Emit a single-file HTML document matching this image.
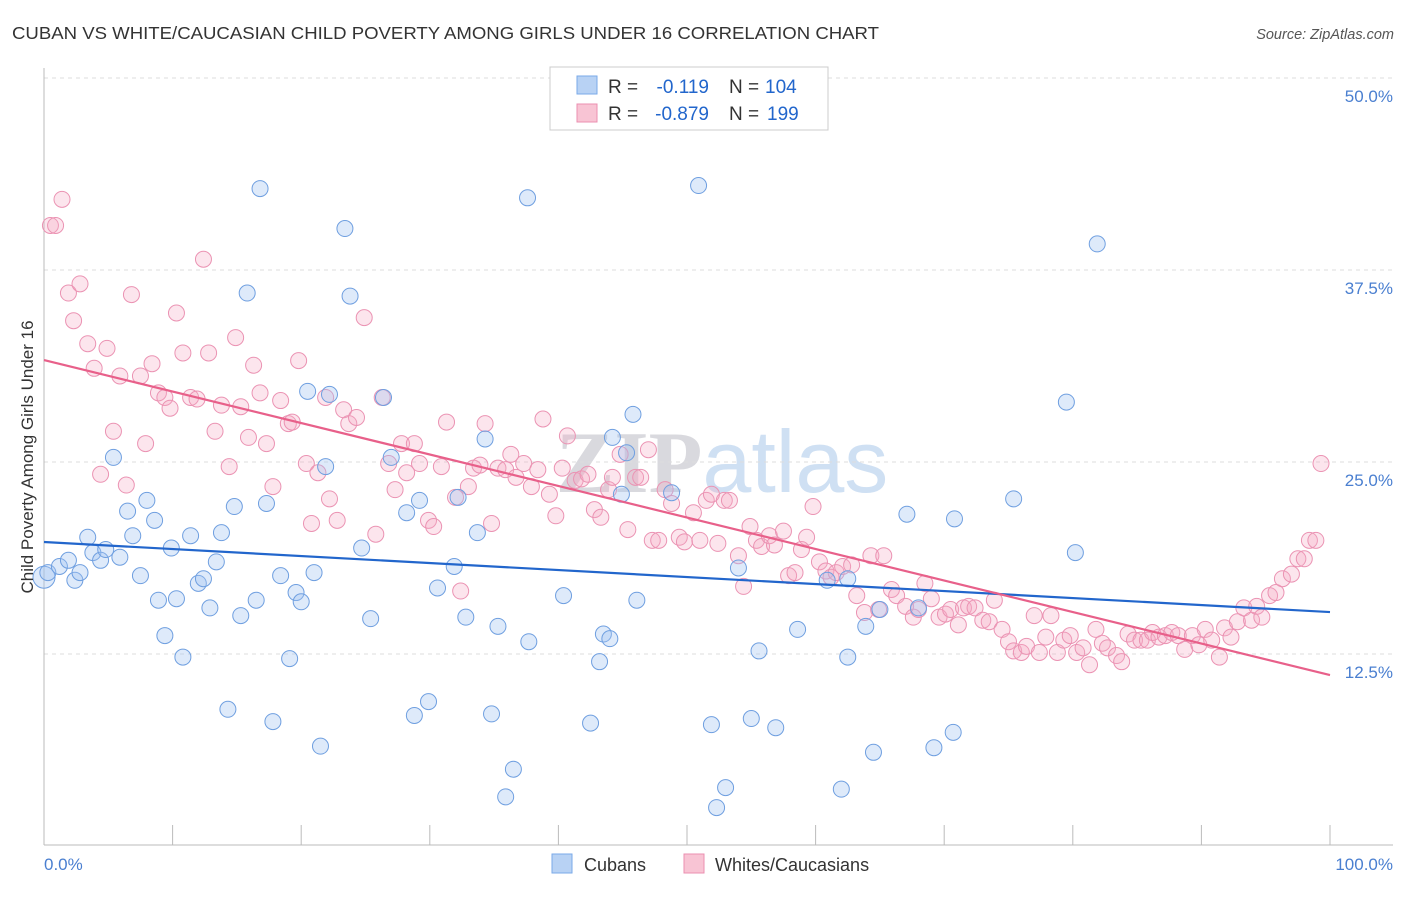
<!DOCTYPE html>
<html><head><meta charset="utf-8"><style>
body{margin:0;background:#fff;font-family:"Liberation Sans",sans-serif}
svg text{font-family:"Liberation Sans",sans-serif}
</style></head><body>
<svg id="chart" width="1406" height="892" viewBox="0 0 1406 892" xmlns="http://www.w3.org/2000/svg">
<text x="12" y="39" font-size="17.5" fill="#333" textLength="867" lengthAdjust="spacingAndGlyphs">CUBAN VS WHITE/CAUCASIAN CHILD POVERTY AMONG GIRLS UNDER 16 CORRELATION CHART</text>
<text x="1394" y="39" font-size="14.5" fill="#555" text-anchor="end" font-style="italic">Source: ZipAtlas.com</text>
<text x="722" y="492" font-size="88" fill="#e6e6ea" text-anchor="middle"><tspan font-family="Liberation Serif" font-weight="bold" fill="#d9d9de">ZIP</tspan><tspan fill="#cfe0f3">atlas</tspan></text>
<g id="grid"></g>
<g id="axes"></g>
<g id="points"></g>
<g id="lines"></g>
<text transform="translate(33,457) rotate(-90)" font-size="17" fill="#333" text-anchor="middle">Child Poverty Among Girls Under 16</text>
<text x="44" y="870" font-size="17" fill="#4a7fd0">0.0%</text>
<text x="1393" y="870" font-size="17" fill="#4a7fd0" text-anchor="end">100.0%</text>
<g>
<rect x="550" y="67" width="278" height="63" fill="#fff" stroke="#ccc"/>
<rect x="577" y="76" width="20" height="18" fill="#b8d2f4" stroke="#7aaae8"/>
<rect x="577" y="104" width="20" height="18" fill="#f8c4d4" stroke="#eb8fb0"/>
<text x="608" y="93" font-size="19" fill="#333">R =</text>
<text x="709" y="93" font-size="19" fill="#2266cc" text-anchor="end">-0.119</text>
<text x="729" y="93" font-size="19" fill="#333">N =</text>
<text x="765" y="93" font-size="19" fill="#2266cc">104</text>
<text x="608" y="120" font-size="19" fill="#333">R =</text>
<text x="709" y="120" font-size="19" fill="#2266cc" text-anchor="end">-0.879</text>
<text x="729" y="120" font-size="19" fill="#333">N =</text>
<text x="767" y="120" font-size="19" fill="#2266cc">199</text>
</g>
<g>
<rect x="552" y="854" width="20" height="19" fill="#b8d2f4" stroke="#7aaae8"/>
<text x="584" y="871" font-size="18" fill="#333">Cubans</text>
<rect x="684" y="854" width="20" height="19" fill="#f8c4d4" stroke="#eb8fb0"/>
<text x="715" y="871" font-size="18" fill="#333">Whites/Caucasians</text>
</g>
</svg>
<script>
const yTicks=[12.5,25,37.5,50];
const yTickLabels=["12.5%","25.0%","37.5%","50.0%"];
const xTicks=[0,10,20,30,40,50,60,70,80,90,100];
const cubanX=[0,0.3,1.2,1.9,2.4,2.8,3.4,3.8,4.4,4.8,5.4,5.9,6.5,6.9,7.5,8.0,8.6,8.9,9.4,9.9,10.3,10.8,11.4,12.0,12.4,12.9,13.4,13.8,14.3,14.8,15.3,15.8,16.5,16.8,17.3,17.8,18.4,19.1,19.6,20.0,20.5,21.0,21.5,21.9,22.2,23.4,23.8,24.7,25.4,26.4,27.0,28.2,28.8,29.2,29.9,30.6,31.9,32.2,32.8,33.7,34.3,34.8,35.3,35.9,36.5,37.6,37.7,40.4,42.5,43.2,43.5,44.0,44.2,44.9,45.3,45.8,46.1,48.8,50.9,51.9,52.3,53.0,54.0,55.0,55.6,56.9,58.6,60.9,62.0,62.5,62.5,63.9,64.5,65.0,67.1,68.0,69.2,70.7,70.8,75.4,79.5,80.2,81.9];
const cubanY=[17.5,17.8,18.2,18.6,17.3,17.8,20.1,19.1,18.6,19.3,25.3,18.8,21.8,20.2,17.6,22.5,21.2,16.0,13.7,19.4,16.1,12.3,20.2,17.1,17.4,15.5,18.5,20.4,8.9,22.1,15.0,36.0,16.0,42.8,22.3,8.1,17.6,12.2,16.5,15.9,29.6,17.8,6.5,24.7,29.4,40.2,35.8,19.4,14.8,29.2,25.3,21.7,8.5,22.5,9.4,16.8,18.2,22.7,14.9,20.4,26.5,8.6,14.3,3.2,5.0,42.2,13.3,16.3,8.0,12.0,13.8,13.5,26.6,22.9,25.6,28.1,16.0,23.0,43.0,7.9,2.5,3.8,18.1,8.3,12.7,7.7,14.1,17.3,3.7,17.4,12.3,14.3,6.1,15.4,21.6,15.5,6.4,7.4,21.3,22.6,28.9,19.1,39.2];
const whiteX=[0.5,0.9,1.4,1.9,2.3,2.8,3.4,3.9,4.4,4.9,5.4,5.9,6.4,6.8,7.5,7.9,8.4,8.9,9.4,9.8,10.3,10.8,11.4,11.9,12.4,12.8,13.3,13.8,14.4,14.9,15.3,15.9,16.3,16.8,17.3,17.8,18.4,19.0,19.3,19.8,20.4,20.8,21.3,21.9,22.2,22.8,23.3,23.7,24.3,24.9,25.8,26.3,26.8,27.3,27.8,28.2,28.8,29.2,29.9,30.3,30.9,31.3,32.0,32.4,33.0,33.4,33.9,34.3,34.8,35.3,35.9,36.3,36.7,37.3,37.9,38.4,38.8,39.3,39.8,40.3,40.7,41.3,41.8,42.3,42.8,43.3,43.9,44.2,44.8,45.4,46.0,46.4,47.0,47.3,47.8,48.3,48.8,49.4,49.8,50.5,51.0,51.5,51.9,52.4,52.9,53.3,54.0,54.4,54.9,55.4,55.8,56.4,56.8,57.5,57.9,58.4,58.9,59.3,59.8,60.3,60.8,61.2,61.6,62.1,62.8,63.2,63.8,64.3,64.9,65.3,65.9,66.3,67.0,67.6,68.0,68.5,69.0,69.6,70.1,70.5,71.1,71.5,71.9,72.4,73.0,73.5,73.9,74.5,75.0,75.4,76.0,76.4,77.0,77.4,77.9,78.3,78.8,79.3,79.8,80.3,80.8,81.3,81.8,82.3,82.7,83.4,83.8,84.3,84.8,85.3,85.8,86.2,86.7,87.2,87.7,88.2,88.7,89.3,89.8,90.3,90.8,91.4,91.8,92.3,92.8,93.3,93.9,94.3,94.7,95.3,95.8,96.3,97.0,97.5,98.0,98.4,98.9,99.3];
const whiteY=[40.4,40.4,42.1,36.0,34.2,36.6,32.7,31.1,24.2,32.4,27.0,30.6,23.5,35.9,30.6,26.2,31.4,29.5,29.2,28.5,34.7,32.1,29.2,29.1,38.2,32.1,27.0,28.7,24.7,33.1,28.6,26.6,31.3,29.5,26.2,23.4,29.0,27.5,27.6,31.6,24.9,21.0,24.3,29.2,22.6,21.2,28.4,27.5,27.9,34.4,20.3,29.2,24.9,23.2,26.2,24.3,26.2,24.9,21.2,20.8,24.7,27.6,22.7,16.6,23.4,24.6,24.8,27.5,21.0,24.6,24.5,25.5,24.0,24.9,23.4,24.5,27.8,22.9,21.5,24.6,26.7,23.8,23.9,24.2,21.9,21.4,23.2,24.0,25.5,20.6,24.0,24.0,25.8,19.9,19.9,23.2,22.3,20.1,19.8,21.7,19.9,22.5,22.9,19.7,22.5,22.5,18.9,16.9,20.8,19.9,19.5,20.2,19.6,20.5,17.6,17.8,19.3,20.1,22.1,18.5,17.9,17.5,17.8,18.2,18.3,16.3,15.2,18.9,15.4,18.9,16.7,16.3,15.6,14.9,15.4,17.1,16.1,14.9,15.1,15.4,14.4,15.5,15.6,15.5,14.7,14.6,16.0,14.1,13.3,12.7,12.6,13.0,15.0,12.6,13.6,15.0,12.6,13.4,13.7,12.6,12.9,11.8,14.1,13.2,12.9,12.4,12.0,13.8,13.4,13.4,13.4,13.9,13.6,13.7,13.9,13.7,12.8,13.7,13.1,14.1,13.4,12.3,14.2,13.6,14.6,15.5,14.7,15.6,14.9,16.3,16.5,17.4,17.7,18.7,18.7,19.9,19.9,24.9];
const cubanTrend=[19.79,15.23];
const whiteTrend=[31.64,11.13];

const NS="http://www.w3.org/2000/svg";
const X0=44,X1=1330,YB=846,PXY=15.36;
function sx(v){return X0+(X1-X0)*v/100;}
function sy(v){return YB-v*PXY;}
function mk(tag,attrs,parent){const e=document.createElementNS(NS,tag);for(const k in attrs)e.setAttribute(k,attrs[k]);parent.appendChild(e);return e;}
const grid=document.getElementById('grid'),axes=document.getElementById('axes'),pts=document.getElementById('points'),lines=document.getElementById('lines');
yTicks.forEach((t,i)=>{
  const l=mk('line',{x1:44,x2:1393,y1:sy(t),y2:sy(t),stroke:'#ddd','stroke-dasharray':'4,4'},grid);
  
  
  const tx=mk('text',{x:1393,y:sy(t)+24,'font-size':17,fill:'#4a7fd0','text-anchor':'end'},grid);
  tx.textContent=yTickLabels[i];
  
  
});
const ax=mk('line',{x1:44,x2:1393,y1:845,y2:845,stroke:'#bbb'},axes);


const ay=mk('line',{x1:44,x2:44,y1:68,y2:845,stroke:'#bbb'},axes);


xTicks.forEach(t=>{
  const l=mk('line',{x1:sx(t),x2:sx(t),y1:825,y2:845,stroke:'#bbb'},axes);
  
  
});
function drawPts(xs,ys,fill,stroke,name){
  xs.forEach((x,i)=>{
    const c=mk('circle',{cx:sx(x),cy:sy(ys[i]),r:(i===0&&name==='cuban-point')?11:8,fill:fill,stroke:stroke,'stroke-width':1},pts);
    
    
  });
}
drawPts(whiteX,whiteY,'rgba(244,170,195,0.3)','#eb93b3','white-point');
drawPts(cubanX,cubanY,'rgba(160,196,240,0.35)','#6f9fe0','cuban-point');
const bl=mk('line',{x1:sx(0),y1:sy(cubanTrend[0]),x2:sx(100),y2:sy(cubanTrend[1]),stroke:'#2266cc','stroke-width':2.2},lines);


const pl=mk('line',{x1:sx(0),y1:sy(whiteTrend[0]),x2:sx(100),y2:sy(whiteTrend[1]),stroke:'#e8608a','stroke-width':2.2},lines);


</script>
</body></html>
